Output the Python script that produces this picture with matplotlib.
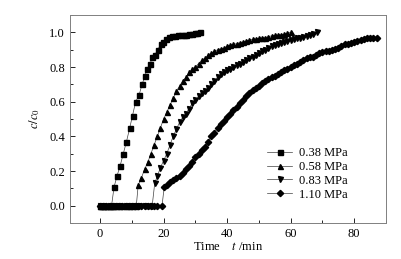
import matplotlib.pyplot as plt
from matplotlib.ticker import MultipleLocator

plt.rcParams['font.family'] = ['Liberation Serif', 'DejaVu Serif']
plt.rcParams['mathtext.fontset'] = 'stix'

labels = ['0.38 MPa', '0.58 MPa', '0.83 MPa', '1.10 MPa']
markers = ['s', '^', 'v', 'D']

t1 = [0, 0.9, 1.8, 2.7, 3.6, 4.4, 5.3, 6.3, 7.3, 8.3, 9.3, 10.2, 11.2, 12.3, 13.2,
      14.1, 14.8, 15.8, 16.4, 17.3, 18.1, 19.1, 19.8, 20.9, 21.8, 22.7, 23.6, 24.5,
      25.4, 26.3, 27.2, 28.1, 29.0, 29.9, 30.6, 31.3]
c1 = [0, 0, 0, 0, 0, 0.108, 0.17, 0.23, 0.30, 0.37, 0.446, 0.52, 0.60, 0.64, 0.70,
      0.746, 0.79, 0.82, 0.856, 0.87, 0.90, 0.93, 0.945, 0.963, 0.973, 0.978, 0.98,
      0.982, 0.983, 0.985, 0.987, 0.99, 0.992, 0.995, 0.997, 1.0]

t2 = [0, 1, 2, 3, 4, 5, 6, 7, 8, 9, 10, 11.4, 12, 13, 14, 15, 16, 17, 18, 19, 20,
      21, 22, 23, 24, 25, 26, 27, 28, 29, 30, 31, 32, 33, 34, 35, 36, 37, 38, 39,
      40, 41, 42, 43, 44, 45, 46, 47, 48, 49, 50, 51, 52, 53, 54, 55, 56, 57, 58,
      59, 60]
c2 = [0, 0, 0, 0, 0, 0, 0, 0, 0, 0, 0, 0, 0.12, 0.16, 0.21, 0.25, 0.30, 0.35, 0.40,
      0.45, 0.50, 0.54, 0.58, 0.62, 0.66, 0.69, 0.72, 0.74, 0.77, 0.79, 0.80, 0.82,
      0.84, 0.85, 0.87, 0.88, 0.89, 0.90, 0.905, 0.91, 0.92, 0.925, 0.93, 0.935,
      0.94, 0.945, 0.95, 0.955, 0.96, 0.962, 0.965, 0.968, 0.97, 0.975, 0.98,
      0.982, 0.985, 0.987, 0.99, 0.995, 1.0]

t3 = [0, 1, 2, 3, 4, 5, 6, 7, 8, 9, 10, 11, 12, 13, 14, 15, 16.4, 17.2, 18, 19, 20,
      21, 22, 23, 24, 25, 26, 27, 28, 29, 30, 31, 32, 33, 34, 35, 36, 37, 38, 39,
      40, 41, 42, 43, 44, 45, 46, 47, 48, 49, 50, 51, 52, 53, 54, 55, 56, 57, 58,
      59, 60, 61, 62, 63, 64, 65, 66, 67, 68.4]
c3 = [0, 0, 0, 0, 0, 0, 0, 0, 0, 0, 0, 0, 0, 0, 0, 0, 0, 0.13, 0.17, 0.22, 0.26,
      0.30, 0.35, 0.40, 0.44, 0.48, 0.51, 0.53, 0.56, 0.59, 0.61, 0.63, 0.65, 0.66,
      0.68, 0.70, 0.72, 0.74, 0.76, 0.77, 0.78, 0.79, 0.80, 0.81, 0.82, 0.83, 0.84,
      0.85, 0.86, 0.87, 0.88, 0.89, 0.90, 0.91, 0.92, 0.925, 0.93, 0.937, 0.945,
      0.95, 0.955, 0.96, 0.965, 0.97, 0.975, 0.98, 0.985, 0.99, 1.0]

t4 = [0, 1, 2, 3, 4, 5, 6, 7, 8, 9, 10, 11, 12, 13, 14, 15, 16, 17, 18, 19.5, 20.2,
      21, 22, 23, 24, 25, 26, 27, 28, 29, 30, 31, 32, 33, 34, 35, 36, 37, 38, 39,
      40, 41, 42, 43, 44, 45, 46, 47, 48, 49, 50, 51, 52, 53, 54, 55, 56, 57, 58,
      59, 60, 61, 62, 63, 64, 65, 66, 67, 68, 69, 70, 71, 72, 73, 74, 75, 76, 77,
      78, 79, 80, 81, 82, 83, 84, 85, 86, 87.2]
c4 = [0, 0, 0, 0, 0, 0, 0, 0, 0, 0, 0, 0, 0, 0, 0, 0, 0, 0, 0, 0, 0.11, 0.12, 0.135,
      0.15, 0.16, 0.17, 0.19, 0.21, 0.23, 0.25, 0.28, 0.30, 0.32, 0.34, 0.37, 0.40,
      0.42, 0.45, 0.47, 0.49, 0.51, 0.53, 0.55, 0.57, 0.59, 0.61, 0.63, 0.65, 0.67,
      0.68, 0.69, 0.71, 0.72, 0.73, 0.74, 0.75, 0.76, 0.77, 0.78, 0.79, 0.80, 0.81,
      0.82, 0.83, 0.84, 0.85, 0.855, 0.86, 0.87, 0.88, 0.885, 0.89, 0.895, 0.90,
      0.905, 0.91, 0.92, 0.93, 0.935, 0.94, 0.945, 0.95, 0.955, 0.96, 0.965, 0.967,
      0.967, 0.967]

fig = plt.figure(figsize=(4.02, 2.59), dpi=100)
ax = fig.add_axes([0.174, 0.139, 0.786, 0.803])

for t, c, m, lab in zip([t1, t2, t3, t4], [c1, c2, c3, c4], markers, labels):
    ms = 3.2 if m == 'D' else 3.6
    ax.plot(t, c, color='0.25', lw=0.5, marker=m, ms=ms, mfc='k', mec='k',
            label=lab)

ax.set_xlim(-9.5, 90)
ax.set_ylim(-0.1, 1.1)
ax.xaxis.set_major_locator(MultipleLocator(20))
ax.xaxis.set_minor_locator(MultipleLocator(10))
ax.yaxis.set_major_locator(MultipleLocator(0.2))
ax.yaxis.set_minor_locator(MultipleLocator(0.1))
ax.yaxis.set_major_formatter(plt.FormatStrFormatter('%.1f'))
ax.tick_params(which='both', direction='in', labelsize=9, top=False, right=False)
ax.tick_params(which='major', length=3.5, width=0.6)
ax.tick_params(which='minor', length=2, width=0.6)
for s in ax.spines.values():
    s.set_color('0.5')
    s.set_linewidth(0.7)

ax.set_xlabel('Time    $t$ /min', fontsize=9, labelpad=1)
ax.set_ylabel('$c/c_0$', fontsize=9, labelpad=5)

ax.legend(loc='lower right', bbox_to_anchor=(0.905, 0.065), frameon=False,
          fontsize=9, handlelength=2.0, handletextpad=0.5, labelspacing=0.15,
          borderpad=0.2)

plt.savefig('out.png', dpi=100)
